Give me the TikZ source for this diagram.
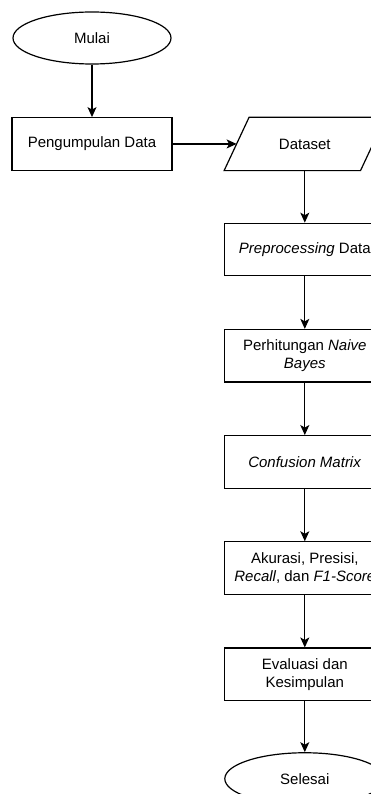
\documentclass[tikz,border=0pt]{standalone}
\usepackage{fontspec}
\setmainfont{Liberation Sans}
\usetikzlibrary{arrows.meta,positioning,shapes.geometric}

\begin{document}
\begin{tikzpicture}[
  x=1pt, y=1pt,
  node distance=52.5pt and 52.5pt,
  proc/.style={rectangle, draw, line width=1.2pt, minimum width=160pt,
               minimum height=52.5pt, inner sep=2pt, align=center,
               font=\fontsize{15}{18}\selectfont},
  term/.style={ellipse, draw, line width=1.2pt, minimum width=158pt,
               minimum height=52pt, inner sep=0pt,
               font=\fontsize{15}{18}\selectfont},
  io/.style={rectangle, minimum width=136pt, minimum height=53pt,
             inner sep=0pt, font=\fontsize{15}{18}\selectfont},
  arr/.style={-{Stealth[length=10pt,width=9pt,inset=2.5pt]}, line width=1.2pt},
]
  \clip (0,0) rectangle (371,-794);
  \node[term] (mulai) at (92,-38) {Mulai};
  \node[proc,below=of mulai] (kumpul) {Pengumpulan Data};
  \node[io,right=64pt of kumpul] (dataset) {Dataset};
  % parallelogram round the data node
  \draw[line width=1.2pt] ([xshift=-12.5pt]dataset.south west) -- ([xshift=-12.5pt]dataset.south east)
    -- ([xshift=12.5pt]dataset.north east) -- ([xshift=12.5pt]dataset.north west) -- cycle;
  \node[proc,below=52pt of dataset] (prepro) {\textit{Preprocessing} Data};
  \node[proc,below=of prepro] (hitung) {Perhitungan \textit{Naive}\\\textit{Bayes}};
  \node[proc,below=of hitung] (cm) {\textit{Confusion Matrix}};
  \node[proc,below=of cm] (metrik) {Akurasi, Presisi,\\\textit{Recall}, dan \textit{F1-Score}};
  \node[proc,below=of metrik] (eval) {Evaluasi dan\\Kesimpulan};
  \node[term,minimum width=160pt,below=51pt of eval] (selesai) {Selesai};
  \draw[arr] (mulai) -- (kumpul);
  \draw[arr] (kumpul) -- (dataset);
  \draw[arr] (dataset) -- (prepro);
  \draw[arr] (prepro) -- (hitung);
  \draw[arr] (hitung) -- (cm);
  \draw[arr] (cm) -- (metrik);
  \draw[arr] (metrik) -- (eval);
  \draw[arr] (eval) -- (selesai);
\end{tikzpicture}
\end{document}
